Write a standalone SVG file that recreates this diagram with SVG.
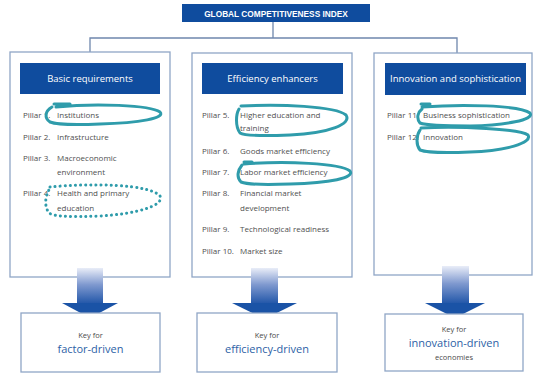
<svg xmlns="http://www.w3.org/2000/svg" width="534" height="383" viewBox="0 0 534 383">
<defs>
<linearGradient id="shaft" x1="0" y1="0" x2="0" y2="1">
<stop offset="0" stop-color="#e9edf8"/>
<stop offset="0.45" stop-color="#7f99cf"/>
<stop offset="1" stop-color="#1b52a6"/>
</linearGradient>
<style>
.box{fill:#fff;stroke:#90a6c6;stroke-width:1.3}
.hdr{fill:#0f4c9e}
.hdrt{font-family:"Open Sans","Liberation Sans",sans-serif;font-size:9.5px;fill:#fff;text-anchor:middle}
.p{font-family:"Open Sans","Liberation Sans",sans-serif;font-size:8px;fill:#4f4f4f}
.con{fill:none;stroke:#6f87ad;stroke-width:1.3}
.loop{fill:none;stroke:#2f9cab;stroke-width:3;stroke-linecap:round;stroke-linejoin:round}
.dot{fill:none;stroke:#2f9cab;stroke-width:3;stroke-linecap:round;stroke-dasharray:0.1 5}
.key{font-family:"Open Sans","Liberation Sans",sans-serif;font-size:7.5px;fill:#4a4a4a;text-anchor:middle}
.kb{font-family:"Open Sans","Liberation Sans",sans-serif;font-size:11px;fill:#2d5fa6;text-anchor:middle}
.arrow{fill:#1a53a6}
</style>
</defs>
<rect width="534" height="383" fill="#fff"/>

<g id="connectors">
<path class="con" d="M273,22 V38 M90,52 V38 H457 V53"/>
</g>

<g id="title">
<rect x="182" y="4" width="188" height="18" fill="#0f4c9e"/>
<text x="276" y="16.5" font-family="Liberation Sans,Arial,sans-serif" font-size="8.3" font-weight="bold" fill="#fff" text-anchor="middle">GLOBAL COMPETITIVENESS INDEX</text>
</g>

<g id="basic">
<rect class="box" x="10" y="52" width="160" height="225"/>
<rect class="hdr" x="20" y="63" width="140" height="31"/>
<text class="hdrt" x="90" y="82">Basic requirements</text>
<text class="p" x="23" y="118">Pillar 1.</text><text class="p" x="57" y="118">Institutions</text>
<text class="p" x="23" y="140">Pillar 2.</text><text class="p" x="57" y="140">Infrastructure</text>
<text class="p" x="23" y="161">Pillar 3.</text><text class="p" x="57" y="161">Macroeconomic</text>
<text class="p" x="57" y="175">environment</text>
<text class="p" x="23" y="196">Pillar 4.</text><text class="p" x="57" y="196">Health and primary</text>
<text class="p" x="57" y="211">education</text>
</g>

<g id="efficiency">
<rect class="box" x="192" y="53" width="160" height="224"/>
<rect class="hdr" x="202" y="63" width="141" height="31"/>
<text class="hdrt" x="272.5" y="82">Efficiency enhancers</text>
<text class="p" x="202" y="118">Pillar 5.</text><text class="p" x="240" y="118">Higher education and</text>
<text class="p" x="240" y="131">training</text>
<text class="p" x="202" y="154">Pillar 6.</text><text class="p" x="240" y="154">Goods market efficiency</text>
<text class="p" x="202" y="175">Pillar 7.</text><text class="p" x="240" y="175">Labor market efficiency</text>
<text class="p" x="202" y="196">Pillar 8.</text><text class="p" x="240" y="196">Financial market</text>
<text class="p" x="240" y="211">development</text>
<text class="p" x="202" y="232">Pillar 9.</text><text class="p" x="240" y="232">Technological readiness</text>
<text class="p" x="202" y="254">Pillar 10.</text><text class="p" x="240" y="254">Market size</text>
</g>

<g id="innovation">
<rect class="box" x="374" y="53" width="158" height="222"/>
<rect class="hdr" x="385" y="63" width="141" height="32"/>
<text class="hdrt" x="455.5" y="82">Innovation and sophistication</text>
<text class="p" x="387" y="118">Pillar 11.</text><text class="p" x="423" y="118">Business sophistication</text>
<text class="p" x="387" y="140">Pillar 12.</text><text class="p" x="423" y="140">Innovation</text>
</g>

<g id="annotations">
<path class="loop" d="M54,104 H70 M56,107 C95,103 150,105 160,112 C166,118 140,123 100,124 C75,125 55,124 50,122 C44,118 45,111 52,107"/>
<path class="loop" d="M241,106 C280,104 335,106 346,115 C352,124 330,133 290,135 C265,136 245,136 240,133 C235,126 236,114 239,109"/>
<path class="loop" d="M244,162 H252 M244,164 C285,161 340,163 350,171 C355,178 330,183 290,184 C265,185 246,184 241,182 C236,177 238,170 242,165"/>
<path class="dot" d="M50,187 C90,183 150,184 160,196 C165,206 135,214 100,216 C75,217 55,217 49,213 C44,206 45,196 50,188"/>
<path class="loop" d="M421,104 H430 M422,107 C460,104 520,105 530,113 C535,120 505,125 470,126 C445,126 425,125 420,123 C416,118 418,112 422,109"/>
<path class="loop" d="M421,128 C460,126 520,129 528,135 C533,143 505,151 470,152 C445,153 425,152 420,150 C416,145 416,136 420,130"/>
</g>

<g id="arrows">
<rect x="77" y="268" width="26" height="37" fill="url(#shaft)"/>
<path class="arrow" d="M62,303 H118 L90,318 Z"/>
<rect x="251" y="268" width="27" height="37" fill="url(#shaft)"/>
<path class="arrow" d="M232,303 H297 L264.5,319 Z"/>
<rect x="442" y="266" width="27" height="39" fill="url(#shaft)"/>
<path class="arrow" d="M425,303 H485 L455,318 Z"/>
</g>

<g id="key-factor">
<rect class="box" x="21" y="313" width="139" height="59"/>
<text class="key" x="90.5" y="338">Key for</text>
<text class="kb" x="90.5" y="353">factor-driven</text>
</g>

<g id="key-efficiency">
<rect class="box" x="197" y="313" width="140" height="59"/>
<text class="key" x="267" y="338">Key for</text>
<text class="kb" x="267" y="353">efficiency-driven</text>
</g>

<g id="key-innovation">
<rect class="box" x="385" y="314" width="138" height="57"/>
<text class="key" x="454" y="332">Key for</text>
<text class="kb" x="454" y="347">innovation-driven</text>
<text class="key" x="454" y="360">economies</text>
</g>
</svg>
